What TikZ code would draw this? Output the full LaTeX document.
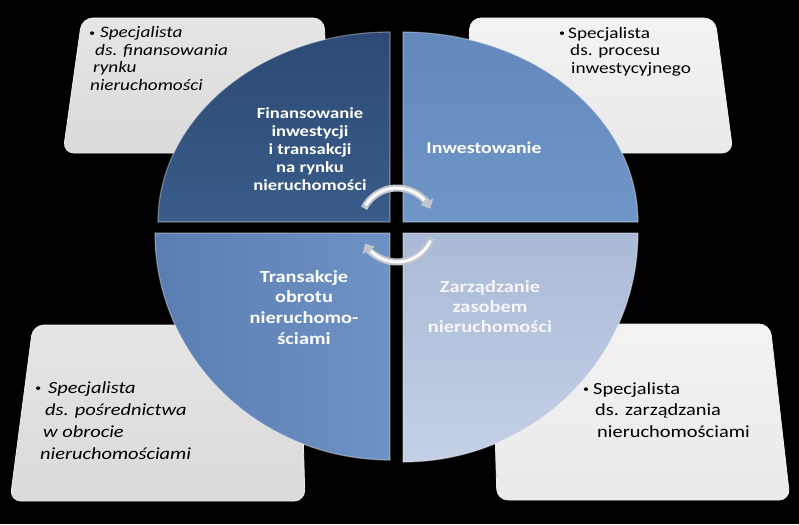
\documentclass[tikz,border=0pt]{standalone}
\usepackage{fontspec}
\setmainfont{Carlito}[FakeStretch=1.2]
\usetikzlibrary{arrows.meta, positioning, calc}

\definecolor{qdark}{RGB}{44,74,116}
\definecolor{qdarkb}{RGB}{58,92,138}
\definecolor{qmid}{RGB}{98,136,188}
\definecolor{qmidb}{RGB}{112,150,200}
\definecolor{qlow}{RGB}{90,126,178}
\definecolor{qlowb}{RGB}{110,146,196}
\definecolor{qpale}{RGB}{170,186,214}
\definecolor{qpaleb}{RGB}{196,208,230}
\definecolor{cardgray}{RGB}{218,218,218}
\definecolor{cardlight}{RGB}{234,234,234}
\definecolor{silver}{RGB}{192,197,206}

\newcommand{\bul}[1]{\makebox[#1][l]{\raisebox{1.2pt}{\fontsize{10}{10}\selectfont\textbullet}}}

\tikzset{
  card/.style={rounded corners=11pt, draw=white!85!gray, line width=0.8pt},
  quad/.style={draw=white, draw opacity=0.35, line width=1.2pt},
  qlabel/.style={text=white, inner sep=0pt, align=center},
  spec/.style={anchor=north west, inner sep=0pt, align=left, text=black},
  cyc/.style={line width=7pt, draw=silver, -{Triangle[width=14pt,length=8pt]}},
  cycshine/.style={line width=3pt, draw=white!96!gray},
}

\begin{document}
\begin{tikzpicture}[x=1pt, y=-1pt]
\fill[black] (0,0) rectangle (799,524);
\useasboundingbox (0,0) rectangle (799,524);

\path[card, top color=cardgray!70!white, bottom color=cardgray] (82,18) -- (324,18) -- (330,153) -- (63,153) -- cycle;
\path[card, top color=cardlight!60!white, bottom color=cardlight] (470,18) -- (715,18) -- (733,153) -- (465,153) -- cycle;
\path[card, top color=cardgray!70!white, bottom color=cardgray] (33,325) -- (300,325) -- (305,501) -- (10,501) -- cycle;
\path[card, top color=cardlight!60!white, bottom color=cardlight] (492,324) -- (770,324) -- (790,500) -- (497,500) -- cycle;

\path[quad, top color=qdark, bottom color=qdarkb] (390,222) -- (158,222) arc[start angle=180, end angle=270, x radius=232, y radius=190] -- cycle;
\path[quad, top color=qmid, bottom color=qmidb] (403,222) -- (403,32) arc[start angle=270, end angle=360, x radius=235, y radius=190] -- cycle;
\path[quad, left color=qlow, right color=qlowb] (390,233) -- (390,460) arc[start angle=90, end angle=180, x radius=235, y radius=227] -- cycle;
\path[quad, top color=qpale, bottom color=qpaleb] (403,233) -- (638,233) arc[start angle=0, end angle=90, x radius=235, y radius=229] -- cycle;

\node[qlabel, anchor=north, font=\bfseries\fontsize{15.5}{18}\selectfont] (fin) at (310,107)
  {Finansowanie\\inwestycji\\i transakcji\\na rynku\\nieruchomości};
\node[qlabel, anchor=base, font=\bfseries\fontsize{16.5}{20}\selectfont] (inw) at (484,153) {Inwestowanie};
\node[qlabel, anchor=north, font=\bfseries\fontsize{17}{20.7}\selectfont] (obr) at (304,270)
  {Transakcje\\obrotu\\nieruchomo-\\ściami};
\node[qlabel, anchor=north, text=white!88!qpale, font=\bfseries\fontsize{17}{20}\selectfont] (zas) at (490,280)
  {Zarządzanie\\zasobem\\nieruchomości};

\node[spec, font=\itshape\fontsize{16}{17.5}\selectfont] (finspec) at (89,26.3)
  {\bul{11pt}Specjalista\\\hspace*{6pt}ds. finansowania\\\hspace*{4pt}rynku\\\hspace*{1pt}nieruchomości};
\node[spec, font=\fontsize{16}{17.5}\selectfont] (inwspec) at (559,26.8)
  {\bul{9pt}Specjalista\\\hspace*{11pt}ds. procesu\\\hspace*{12pt}inwestycyjnego};
\node[spec, font=\itshape\fontsize{17}{22}\selectfont] (obrspec) at (35,381)
  {\bul{13pt}Specjalista\\\hspace*{10pt}ds. pośrednictwa\\\hspace*{8pt}w obrocie\\\hspace*{5pt}nieruchomościami};
\node[spec, font=\fontsize{17}{21.5}\selectfont] (zasspec) at (583,382)
  {\bul{10pt}Specjalista\\\hspace*{12pt}ds. zarządzania\\\hspace*{14pt}nieruchomościami};

\coordinate (hub) at (397,225);
\draw[cyc] ($(hub)+(207:37)$) arc[start angle=207, end angle=334, radius=37];
\draw[cycshine] ($(hub)+(212:37)$) arc[start angle=212, end angle=318, radius=37];
\draw[cyc] ($(hub)+(20:37)$) arc[start angle=20, end angle=150, radius=37];
\draw[cycshine] ($(hub)+(25:37)$) arc[start angle=25, end angle=135, radius=37];
\end{tikzpicture}
\end{document}
